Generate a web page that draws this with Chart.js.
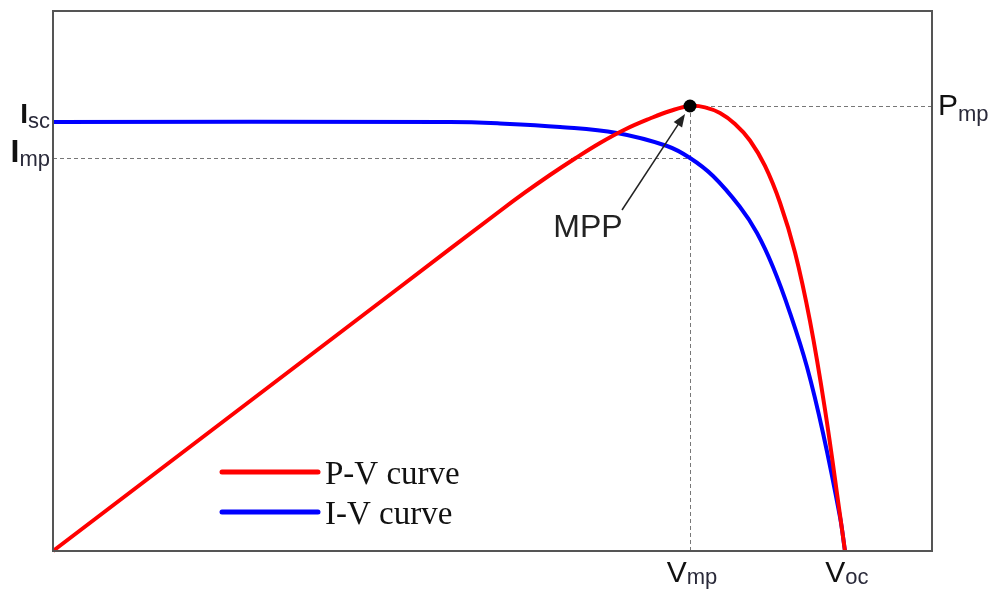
<!DOCTYPE html>
<html><head><meta charset="utf-8">
<script src="https://cdn.jsdelivr.net/npm/chart.js@4"></script>
<style>html,body{margin:0;padding:0;background:#fff}canvas{display:block}</style>
</head><body>
<canvas id="c" width="998" height="590"></canvas>
<script>
// P-V curve (power vs voltage), arbitrary units
const pvVoltage = [0, 39.48, 50.85, 53.70, 56.54, 59.39, 62.23, 65.07, 67.92, 70.19, 72.47, 74.18, 75.88, 77.59, 79.29, 81.00, 82.71, 84.41, 86.12, 87.83, 89.53, 90.10];
const pvPower   = [0, 48.89, 62.96, 66.39, 69.63, 72.69, 75.56, 78.06, 80.09, 81.48, 82.41, 82.16, 81.10, 79.07, 76.02, 71.30, 64.49, 55.32, 42.55, 26.16, 6.71, 0];
// I-V curve (current vs voltage), arbitrary units
const ivVoltage = [0, 45.16, 50.85, 57.68, 64.16, 69.85, 72.47, 75.09, 78.16, 80.09, 81.91, 83.85, 85.78, 87.60, 89.53, 90.10];
const ivCurrent = [79.44, 79.44, 79.17, 78.52, 77.41, 75.00, 72.78, 69.44, 63.70, 58.89, 52.59, 44.07, 34.07, 21.85, 6.30, 0];
// key points
const Vmp = 72.47, Voc = 90.10, Isc = 79.44, Imp = 72.78, Pmp = 82.41;
const seriesNames = ['P-V curve', 'I-V curve'];
const seriesColors = ['#ff0000', '#0000ff'];
const tickLabels = { Isc: ['I', 'sc'], Imp: ['I', 'mp'], Pmp: ['P', 'mp'], Vmp: ['V', 'mp'], Voc: ['V', 'oc'] };
const mppLabel = 'MPP';

const toPts = (xs, ys) => xs.map((x, i) => ({ x, y: ys[i] }));

function drawSub(ctx, parts, x, base, mainFont, subFont, subDy, align) {
  ctx.font = mainFont; const w1 = ctx.measureText(parts[0]).width;
  ctx.font = subFont; const w2 = ctx.measureText(parts[1]).width;
  let x0 = x;
  if (align === 'right') x0 = x - w1 - w2;
  else if (align === 'center') x0 = x - (w1 + w2) / 2;
  ctx.textAlign = 'left'; ctx.textBaseline = 'alphabetic';
  ctx.fillStyle = '#111';
  ctx.font = mainFont; ctx.fillText(parts[0], x0, base);
  ctx.fillStyle = '#2a2a3a';
  ctx.font = subFont; ctx.fillText(parts[1], x0 + w1, base + subDy);
}

const overlay = {
  id: 'overlay',
  beforeDatasetsDraw(chart) {
    const { ctx, chartArea: ca, scales: { x, y } } = chart;
    const px = x.getPixelForValue(Vmp), pyP = y.getPixelForValue(Pmp), pyI = y.getPixelForValue(Imp);
    ctx.save();
    ctx.strokeStyle = '#777'; ctx.lineWidth = 1; ctx.setLineDash([4, 3]);
    ctx.beginPath();
    ctx.moveTo(ca.left, Math.round(pyI) + 0.5); ctx.lineTo(px, Math.round(pyI) + 0.5);
    ctx.moveTo(Math.round(px) + 0.5, pyP); ctx.lineTo(Math.round(px) + 0.5, ca.bottom);
    ctx.moveTo(px, Math.round(pyP) + 0.5); ctx.lineTo(ca.right, Math.round(pyP) + 0.5);
    ctx.stroke();
    ctx.restore();
  },
  afterDatasetsDraw(chart) {
    const { ctx, chartArea: ca, scales: { x, y } } = chart;
    ctx.save();
    // MPP annotation
    const px = x.getPixelForValue(Vmp), py = y.getPixelForValue(Pmp);
    const tx = px - 68, ty = py + 104, hx = px - 5, hy = py + 8;
    const ang = Math.atan2(hy - ty, hx - tx);
    ctx.strokeStyle = '#222'; ctx.fillStyle = '#222'; ctx.lineWidth = 1.5;
    ctx.beginPath(); ctx.moveTo(tx, ty);
    ctx.lineTo(hx - 10 * Math.cos(ang), hy - 10 * Math.sin(ang)); ctx.stroke();
    ctx.beginPath(); ctx.moveTo(hx, hy);
    ctx.lineTo(hx - 13 * Math.cos(ang) + 5 * Math.sin(ang), hy - 13 * Math.sin(ang) - 5 * Math.cos(ang));
    ctx.lineTo(hx - 13 * Math.cos(ang) - 5 * Math.sin(ang), hy - 13 * Math.sin(ang) + 5 * Math.cos(ang));
    ctx.closePath(); ctx.fill();
    ctx.font = '32px "Liberation Sans", Arial, sans-serif';
    ctx.textAlign = 'center'; ctx.textBaseline = 'alphabetic';
    ctx.fillText(mppLabel, px - 102, py + 131);

    // legend
    for (let i = 0; i < 2; i++) {
      const ly = ca.bottom - 79 + i * 40;
      ctx.strokeStyle = seriesColors[i]; ctx.lineWidth = 5; ctx.lineCap = 'round';
      ctx.beginPath(); ctx.moveTo(ca.left + 169, ly); ctx.lineTo(ca.left + 265, ly); ctx.stroke();
      ctx.fillStyle = '#111';
      ctx.font = '33px "Liberation Serif", "Times New Roman", serif';
      ctx.textAlign = 'left'; ctx.textBaseline = 'alphabetic';
      ctx.fillText(seriesNames[i], ca.left + 272, ly + 12);
    }
    ctx.restore();
  },
  afterDraw(chart) {
    const { ctx, chartArea: ca, scales: { x, y } } = chart;
    ctx.save();
    ctx.strokeStyle = '#555'; ctx.lineWidth = 2; ctx.setLineDash([]);
    ctx.strokeRect(ca.left, ca.top, ca.right - ca.left, ca.bottom - ca.top);
    const sans = '"Liberation Sans", Arial, sans-serif';
    const yI = y.getPixelForValue(Isc), yM = y.getPixelForValue(Imp), yP = y.getPixelForValue(Pmp);
    drawSub(ctx, tickLabels.Isc, ca.left - 3, yI + 1, 'bold 28px ' + sans, '22px ' + sans, 5, 'right');
    drawSub(ctx, tickLabels.Imp, ca.left - 3, yM + 4, 'bold 32px ' + sans, '22px ' + sans, 4, 'right');
    drawSub(ctx, tickLabels.Pmp, ca.right + 6, yP + 9, '30px ' + sans, '22px ' + sans, 6, 'left');
    drawSub(ctx, tickLabels.Vmp, x.getPixelForValue(Vmp) + 2, ca.bottom + 31, '30px ' + sans, '22px ' + sans, 2, 'center');
    drawSub(ctx, tickLabels.Voc, x.getPixelForValue(Voc) + 2, ca.bottom + 31, '30px ' + sans, '22px ' + sans, 2, 'center');
    ctx.restore();
  }
};

new Chart(document.getElementById('c'), {
  type: 'line',
  data: {
    datasets: [
      { label: 'MPP', data: [{ x: Vmp, y: Pmp }], showLine: false, pointRadius: 6.5, pointBackgroundColor: '#000', pointBorderColor: '#000', pointBorderWidth: 0, order: 0 },
      { label: seriesNames[0], data: toPts(pvVoltage, pvPower), borderColor: seriesColors[0], borderWidth: 4, pointRadius: 0, tension: 0.4, fill: false, order: 1 },
      { label: seriesNames[1], data: toPts(ivVoltage, ivCurrent), borderColor: seriesColors[1], borderWidth: 4, pointRadius: 0, tension: 0.4, fill: false, order: 2 }
    ]
  },
  options: {
    responsive: false, animation: false, devicePixelRatio: 1,
    layout: { padding: { left: 53, top: 11, right: 66, bottom: 39 } },
    scales: {
      x: { type: 'linear', min: 0, max: 100, display: false },
      y: { type: 'linear', min: 0, max: 100, display: false }
    },
    plugins: { legend: { display: false }, tooltip: { enabled: false } },
    clip: false
  },
  plugins: [overlay]
});
</script>
</body></html>
